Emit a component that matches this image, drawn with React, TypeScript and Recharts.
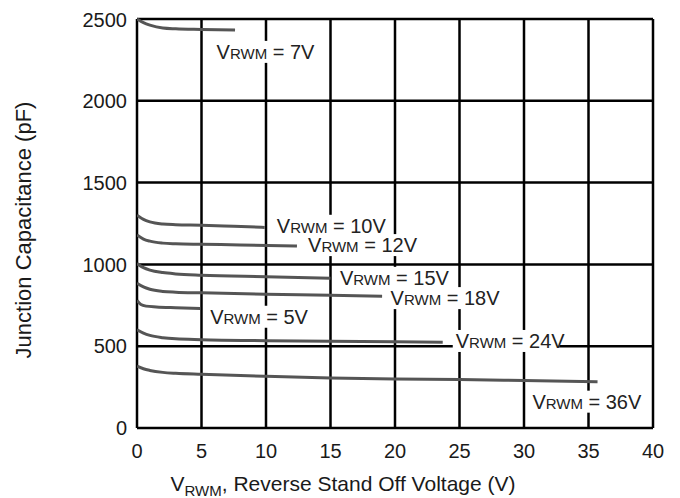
import { CartesianGrid, Label, Line, LineChart, ReferenceDot, XAxis, YAxis } from "recharts";

const FONT = '"Liberation Sans", Arial, sans-serif';

// x ticks (V) and y ticks (pF)
const X_TICKS = [0, 5, 10, 15, 20, 25, 30, 35, 40];
const Y_TICKS = [0, 500, 1000, 1500, 2000, 2500];

// each curve: reverse stand-off voltage (V) vs junction capacitance (pF)
const V_7 = [0, 0.5, 1, 2, 3, 5, 7.6];
const C_7 = [2500, 2478, 2463, 2445, 2440, 2436, 2432];

const V_10 = [0, 0.5, 1, 2, 3, 5, 7.5, 9.9];
const C_10 = [1301, 1275, 1260, 1247, 1243, 1240, 1233, 1226];

const V_12 = [0, 0.5, 1, 2, 3, 5, 8, 12.4];
const C_12 = [1180, 1155, 1142, 1130, 1126, 1123, 1119, 1112];

const V_15 = [0, 0.5, 1, 2, 3, 5, 10, 15];
const C_15 = [1005, 980, 965, 950, 942, 934, 925, 916];

const V_18 = [0, 0.5, 1, 2, 3, 5, 10, 15, 19];
const C_18 = [885, 862, 848, 835, 830, 826, 818, 812, 806];

const V_5 = [0, 0.3, 0.7, 1.5, 3, 4.9];
const C_5 = [780, 755, 745, 740, 735, 730];

const V_24 = [0, 0.5, 1, 2, 3, 5, 10, 15, 20, 23.7];
const C_24 = [600, 580, 566, 552, 545, 540, 534, 530, 527, 524];

const V_36 = [0, 0.5, 1, 2, 3, 5, 10, 15, 20, 25, 30, 35.7];
const C_36 = [378, 362, 352, 340, 334, 328, 316, 306, 300, 296, 290, 283];

// curve labels: text, anchor voltage (left edge), anchor capacitance (middle)
const LABEL_TEXT = ["7V", "10V", "12V", "15V", "18V", "5V", "24V", "36V"];
const LABEL_V = [6.17, 10.84, 13.26, 15.73, 19.66, 5.67, 24.71, 30.65];
const LABEL_C = [2299, 1236, 1118, 918, 794, 680, 532, 161];

const toPoints = (v: number[], c: number[]) => v.map((x, i) => ({ v: x, c: c[i] }));

const curves = [
  toPoints(V_7, C_7),
  toPoints(V_10, C_10),
  toPoints(V_12, C_12),
  toPoints(V_15, C_15),
  toPoints(V_18, C_18),
  toPoints(V_5, C_5),
  toPoints(V_24, C_24),
  toPoints(V_36, C_36),
];

function CurveLabel({ cx, cy, text }: { cx?: number; cy?: number; text: string }) {
  if (cx == null || cy == null) return null;
  const w = 72 + text.length * 11.5;
  return (
    <g>
      <rect x={cx - 3} y={cy - 11} width={w} height={22} fill="#fff" />
      <text x={cx} y={cy + 7} fontFamily={FONT} fontSize={20} fill="#222">
        V<tspan fontSize={15}>RWM</tspan> = {text}
      </text>
    </g>
  );
}

export default function App() {
  return (
    <div style={{ width: 672, height: 490, background: "#fff" }}>
      <LineChart width={672} height={490} margin={{ top: 11, right: 27, bottom: 40, left: 0 }}>
        <CartesianGrid stroke="#000" strokeWidth={2.5} />
        <XAxis
          type="number"
          dataKey="v"
          domain={[0, 40]}
          ticks={X_TICKS}
          axisLine={false}
          tickLine={false}
          tickSize={6}
          tickMargin={10}
          tick={{ fill: "#1a1a1a", fontSize: 20, fontFamily: FONT }}
          allowDataOverflow
        >
          <Label
            content={(props: any) => {
              const vb = props.viewBox;
              return (
                <text
                  x={vb.x + vb.width / 2 - 52}
                  y={vb.y + 63}
                  textAnchor="middle"
                  fontFamily={FONT}
                  fontSize={21}
                  fill="#1a1a1a"
                >
                  V<tspan fontSize={15} dy={5}>RWM</tspan>
                  <tspan dy={-5}>, Reverse Stand Off Voltage (V)</tspan>
                </text>
              );
            }}
          />
        </XAxis>
        <YAxis
          type="number"
          domain={[0, 2500]}
          ticks={Y_TICKS}
          width={129}
          axisLine={false}
          tickLine={false}
          tickSize={6}
          tickMargin={4}
          tick={{ fill: "#1a1a1a", fontSize: 20, fontFamily: FONT }}
        >
          <Label
            content={() => (
              <text
                x={15}
                y={222}
                transform="rotate(-90, 15, 222)"
                textAnchor="middle"
                dominantBaseline="central"
                fontFamily={FONT}
                fontSize={22}
                fill="#1a1a1a"
              >
                Junction Capacitance (pF)
              </text>
            )}
          />
        </YAxis>
        {curves.map((pts, i) => (
          <Line
            key={i}
            data={pts}
            dataKey="c"
            type="monotone"
            stroke="#555"
            strokeWidth={3}
            dot={false}
            isAnimationActive={false}
          />
        ))}
        {LABEL_TEXT.map((t, i) => (
          <ReferenceDot
            key={t}
            x={LABEL_V[i]}
            y={LABEL_C[i]}
            ifOverflow="visible"
            shape={(p: any) => <CurveLabel cx={p.cx} cy={p.cy} text={t} />}
          />
        ))}
      </LineChart>
    </div>
  );
}
